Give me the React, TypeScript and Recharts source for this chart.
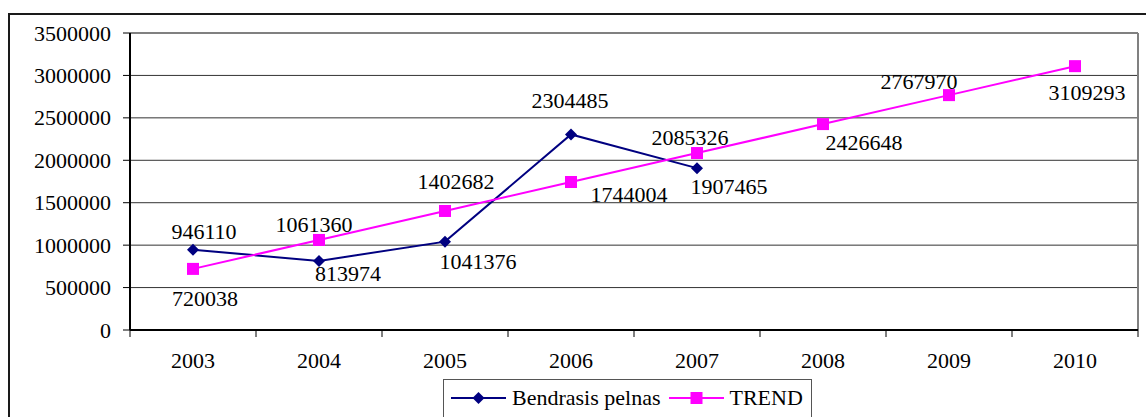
import React from "react";
import { ComposedChart, Line, XAxis, YAxis, CartesianGrid, ReferenceLine, LabelList, Legend } from "recharts";

// Bendrasis pelnas vs. TREND, 2003-2010 (Excel-style line chart)

const years = ["2003", "2004", "2005", "2006", "2007", "2008", "2009", "2010"];
const profit: (number | null)[] = [946110, 813974, 1041376, 2304485, 1907465, null, null, null];
const trend = [720038, 1061360, 1402682, 1744004, 2085326, 2426648, 2767970, 3109293];
const yTicks = [0, 500000, 1000000, 1500000, 2000000, 2500000, 3000000, 3500000];

const PROFIT_NAME = "Bendrasis pelnas";
const TREND_NAME = "TREND";
const NAVY = "#000080";
const PINK = "#FF00FF";
const FONT = "Liberation Serif, Times New Roman, serif";

// where Excel dropped each data label, relative to its point
const profitLabelOffset = [[11, -18], [29, 13], [33, 20], [-1, -34], [32, 18]];
const trendLabelOffset = [[12, 30], [-5, -15], [11, -29], [58, 12], [-7, -16], [41, 18], [-30, -14], [12, 26]];

const data = years.map((year, i) => ({ x: i + 0.5, year, profit: profit[i], trend: trend[i] }));
// integer ticks = category boundaries (tick marks), halves = category centres (labels)
const xTicks = [...years.flatMap((_, i) => [i, i + 0.5]), years.length];

const XTick = (props: any) => {
  const { x, y, payload } = props;
  const v = payload.value as number;
  if (Number.isInteger(v)) {
    return <line x1={x} x2={x} y1={y - 7} y2={y} stroke="#000" strokeWidth={1} />;
  }
  return (
    <text x={x} y={y + 31} textAnchor="middle" fontSize={22} fontFamily={FONT} fill="#000">
      {years[Math.floor(v)]}
    </text>
  );
};

const YTick = (props: any) => {
  const { x, y, payload } = props;
  return (
    <text x={x} y={y} textAnchor="end" dominantBaseline="central" fontSize={22} fontFamily={FONT} fill="#000">
      {payload.value}
    </text>
  );
};

const Diamond = (props: any) => {
  const { cx, cy } = props;
  if (cx == null || cy == null || props.value == null) return null;
  return <path d={`M${cx},${cy - 6}L${cx + 6},${cy}L${cx},${cy + 6}L${cx - 6},${cy}Z`} fill={NAVY} />;
};

const Square = (props: any) => {
  const { cx, cy } = props;
  if (cx == null || cy == null) return null;
  return <rect x={cx - 6} y={cy - 6} width={12} height={12} fill={PINK} />;
};

const makeLabel = (offsets: number[][], values: (number | null)[]) => (props: any) => {
  const { x, y, value } = props;
  if (value == null || x == null || y == null) return null;
  const i = props.index ?? values.indexOf(value);
  const [dx, dy] = offsets[i] ?? [0, -16];
  return (
    <text x={x + dx} y={y + dy} textAnchor="middle" dominantBaseline="central" fontSize={22} fontFamily={FONT} fill="#000">
      {value}
    </text>
  );
};

const renderLegend = () => (
  <div style={{ display: "flex", alignItems: "center", paddingLeft: 7, paddingTop: 6, fontSize: 22, lineHeight: "24px", color: "#000", fontFamily: FONT }}>
    <svg width={55} height={14} style={{ marginRight: 6 }}>
      <line x1={0} x2={55} y1={7} y2={7} stroke={NAVY} strokeWidth={2} />
      <path d="M27.5,1L33.5,7L27.5,13L21.5,7Z" fill={NAVY} />
    </svg>
    <span style={{ marginRight: 9 }}>{PROFIT_NAME}</span>
    <svg width={55} height={14} style={{ marginRight: 5 }}>
      <line x1={0} x2={55} y1={7} y2={7} stroke={PINK} strokeWidth={2} />
      <rect x={21.5} y={1} width={12} height={12} fill={PINK} />
    </svg>
    <span>{TREND_NAME}</span>
  </div>
);

export default function App() {
  return (
    <div style={{ position: "absolute", left: 0, top: 0, width: 1146, height: 417, overflow: "hidden", background: "#fff", fontFamily: FONT }}>
      <div
        style={{
          position: "absolute",
          left: 8,
          top: 13,
          width: 1200,
          height: 500,
          borderLeft: "2px solid #1a1a1a",
          borderTop: "2px solid #1a1a1a",
        }}
      />
      <div style={{ position: "absolute", left: 0, top: 0 }}>
        <ComposedChart width={1146} height={417} data={data} margin={{ top: 33, right: 8, bottom: 0, left: 0 }} style={{ fontFamily: FONT }}>
          <CartesianGrid vertical={false} stroke="#333" strokeWidth={1} />
          <XAxis
            type="number"
            dataKey="x"
            domain={[0, years.length]}
            ticks={xTicks}
            interval={0}
            allowDecimals
            height={87}
            tickSize={7}
            tickMargin={0}
            tickLine={false}
            tick={<XTick />}
            axisLine={{ stroke: "#000", strokeWidth: 2 }}
          />
          <YAxis
            type="number"
            domain={[0, 3500000]}
            ticks={yTicks}
            interval={0}
            width={130}
            tickSize={7}
            tickMargin={12}
            tick={<YTick />}
            tickLine={{ stroke: "#000", strokeWidth: 1 }}
            axisLine={{ stroke: "#000", strokeWidth: 2 }}
          />
          <ReferenceLine y={3500000} stroke="#808080" strokeWidth={2} />
          <ReferenceLine x={years.length} stroke="#808080" strokeWidth={2} />
          <Line
            dataKey="profit"
            name={PROFIT_NAME}
            stroke={NAVY}
            strokeWidth={2}
            dot={<Diamond />}
            activeDot={false}
            isAnimationActive={false}
          >
            <LabelList dataKey="profit" content={makeLabel(profitLabelOffset, profit)} />
          </Line>
          <Line
            dataKey="trend"
            name={TREND_NAME}
            stroke={PINK}
            strokeWidth={2}
            dot={<Square />}
            activeDot={false}
            isAnimationActive={false}
          >
            <LabelList dataKey="trend" content={makeLabel(trendLabelOffset, trend)} />
          </Line>
          <Legend
            layout="horizontal"
            verticalAlign="middle"
            align="center"
            content={renderLegend}
            wrapperStyle={{
              left: 443,
              top: 379,
              width: 369,
              height: 50,
              border: "1px solid #555",
              background: "#fff",
              boxSizing: "border-box",
            }}
          />
        </ComposedChart>
      </div>
    </div>
  );
}
